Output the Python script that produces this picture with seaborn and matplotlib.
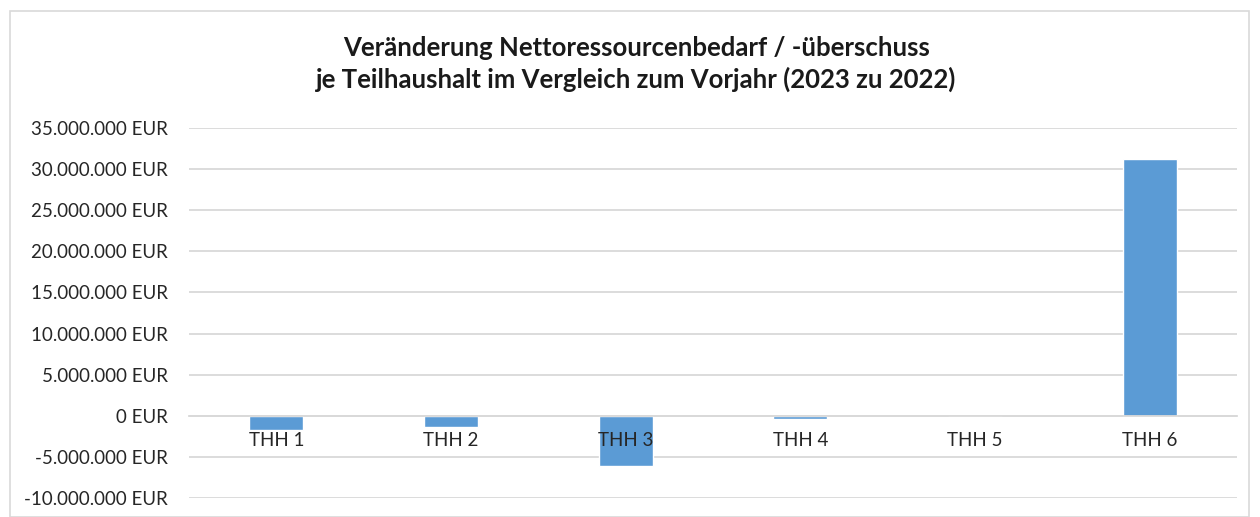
import matplotlib
matplotlib.use("Agg")
import matplotlib.pyplot as plt
import seaborn as sns
import pandas as pd
from matplotlib.patches import Rectangle
from matplotlib.ticker import FuncFormatter

categories = ["THH 1", "THH 2", "THH 3", "THH 4", "THH 5", "THH 6"]
values = [-1750000, -1350000, -6150000, -350000, 0, 31200000]
yticks = [-10000000, -5000000, 0, 5000000, 10000000, 15000000, 20000000, 25000000, 30000000, 35000000]
title = "Veränderung Nettoressourcenbedarf / -überschuss\nje Teilhaushalt im Vergleich zum Vorjahr (2023 zu 2022)"

sns.set_theme(style="white")
plt.rcParams['font.family'] = ['Lato', 'DejaVu Sans']

df = pd.DataFrame({"cat": categories, "val": values})

fig = plt.figure(figsize=(12.6, 5.17), dpi=100)
ax = fig.add_axes([189/1260, 1 - 498/517, (1237-189)/1260, (498-128)/517])

# outer chart border
fig.patches.append(Rectangle((10/1260, 0), (1249-10)/1260, 1 - 11/517, transform=fig.transFigure,
                             fill=False, edgecolor="#D9D9D9", linewidth=1.2))

for t in yticks:
    ax.axhline(t, color="#D9D9D9", linewidth=1.3, zorder=0.5)

sns.barplot(data=df, x="cat", y="val", color="#5B9BD5", saturation=1, width=0.31, ax=ax, zorder=2)

ax.set_ylim(-10000000, 35000000)
ax.set_xlim(-0.5, 5.5)
ax.set_yticks(yticks)
ax.yaxis.set_major_formatter(FuncFormatter(lambda v, p: f"{int(v):,} EUR".replace(",", ".")))
ax.tick_params(axis="y", length=0, pad=15, labelsize=13.5, labelcolor="#262626")
ax.tick_params(axis="x", length=0, pad=12, labelsize=13.5, labelcolor="#262626")
ax.set_xlabel("")
ax.set_ylabel("")
for s in ["top", "right", "left"]:
    ax.spines[s].set_visible(False)
ax.spines["bottom"].set_position(("data", 0))
ax.spines["bottom"].set_color("#D9D9D9")
ax.spines["bottom"].set_linewidth(1.3)
ax.set_axisbelow(False)
for lbl in ax.get_xticklabels():
    lbl.set_zorder(5)

fig.text(0.505, 1 - 64/517, title, ha="center", va="center", fontsize=18.5, fontweight="bold",
         color="#1a1a1a", linespacing=1.35)

fig.savefig("out.png", dpi=100, facecolor="white")
